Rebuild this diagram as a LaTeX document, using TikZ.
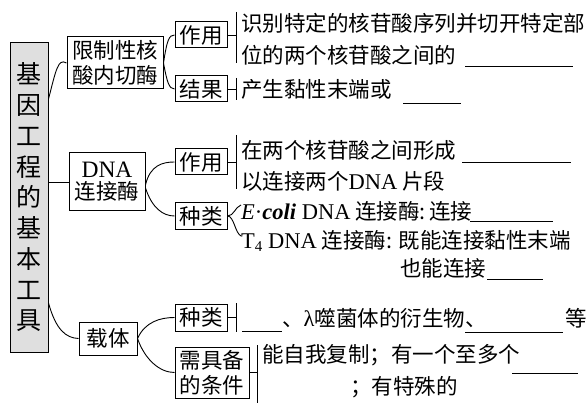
\documentclass[tikz,border=0pt]{standalone}
\usepackage{fontspec}
\setmainfont{Liberation Serif}
\newfontfamily\cjk{Noto Sans CJK SC}
\newcommand{\lat}[1]{{\rmfamily\fontsize{22.5}{25}\selectfont #1}}
\begin{document}
\begin{tikzpicture}[x=1pt,y=-1pt,
  box/.style={draw,line width=1pt,inner sep=0pt,align=center,font=\cjk\fontsize{21.5}{25}\selectfont},
  txt/.style={anchor=west,inner sep=0pt,font=\cjk\fontsize{21.5}{25}\selectfont},
  con/.style={line width=0.9pt},
  blank/.style={line width=1pt}]
\useasboundingbox (0,0) rectangle (586,403);
% main box
\node[box,fill=gray!25,minimum width=38,minimum height=309,font=\cjk\fontsize{25}{30.75}\selectfont] (main) at (29,197.5)
  {基\\因\\工\\程\\的\\基\\本\\工\\具};
% level 1
\node[box,minimum width=96,minimum height=52] (xz) at (115,63) {限制性核\\酸内切酶};
\node[box,minimum width=76,minimum height=58,font=\cjk\fontsize{21.5}{22}\selectfont] (lj) at (107,182) {{\rmfamily\fontsize{23.5}{25}\selectfont DNA}\\连接酶};
\node[box,minimum width=58,minimum height=33] (zt) at (108,338.5) {载体};
% level 2
\node[box,minimum width=52,minimum height=26] (zy1) at (201,35) {作用};
\node[box,minimum width=52,minimum height=26] (jg) at (201,89) {结果};
\node[box,minimum width=52,minimum height=26] (zy2) at (201,162) {作用};
\node[box,minimum width=52,minimum height=27] (zl2) at (201,216) {种类};
\node[box,minimum width=52,minimum height=27] (zl3) at (201,317.5) {种类};
\node[box,minimum width=74,minimum height=51] (xj) at (212,372.5) {需具备\\的条件};
% connectors main -> level 1
\draw[con] (main.east |- 0,99) .. controls (56,70) and (58,58) .. (xz.west);
\draw[con] (main.east |- lj.west) -- (lj.west);
\draw[con] (main.east |- 0,303) .. controls (56,330) and (66,338) .. (zt.west);
% level1 -> level2
\draw[con] (xz.east) .. controls (167,40) and (169,35) .. (zy1.west);
\draw[con] (xz.east) .. controls (167,82) and (169,89) .. (jg.west);
\draw[con] (lj.east |- 0,185) .. controls (150,165) and (163,162) .. (zy2.west);
\draw[con] (lj.east |- 0,188) .. controls (152,208) and (163,216) .. (zl2.west);
\draw[con] (zt.east) .. controls (145,322) and (160,317.5) .. (zl3.west);
\draw[con] (zt.east) .. controls (145,360) and (160,372.5) .. (xj.west);
% brackets
\coordinate (b1) at (236,35);
\draw[con] (zy1.east) -- (b1);
\draw[con] (236,12) -- (236,63);
\coordinate (b2) at (236,89);
\draw[con] (jg.east) -- (b2);
\draw[con] (236,78) -- (236,100);
\coordinate (b3) at (236,162);
\draw[con] (zy2.east) -- (b3);
\draw[con] (236,135) -- (236,189);
\coordinate (b4a) at (241,205);
\coordinate (b4b) at (241,236);
\draw[con] (zl2.east) .. controls (234,216) and (235,207) .. (b4a);
\draw[con] (zl2.east) .. controls (234,216) and (235,233) .. (b4b);
\coordinate (b5) at (236,317.5);
\draw[con] (zl3.east) -- (b5);
\draw[con] (236,303) -- (236,332);
\coordinate (b6) at (257,372.5);
\draw[con] (xj.east) -- (b6);
\draw[con] (257,345) -- (257,403);
% texts
\node[txt] (t1) at (241,23) {识别特定的核苷酸序列并切开特定部};
\node[txt] (t2) at (241,55) {位的两个核苷酸之间的};
\draw[blank] (465,67) -- (573,67);
\node[txt] (t3) at (241,89) {产生黏性末端或};
\draw[blank] (403,104) -- (461,104);
\node[txt] (t4) at (241,150) {在两个核苷酸之间形成};
\draw[blank] (462,163) -- (571,163);
\node[txt] (t5) at (241,181) {以连接两个\lat{DNA} 片段};
\node[txt] (t6) at (241,211) {\lat{\textit{E}·\textbf{\textit{coli}} DNA} 连接酶:\,连接};
\draw[blank] (470,222) -- (553,222);
\node[txt] (t7) at (241,241) {\lat{T\raisebox{-0.35ex}{\fontsize{15}{15}\selectfont 4} DNA} 连接酶: 既能连接黏性末端};
\node[txt] (t8) at (400,268) {也能连接};
\draw[blank] (487,280) -- (543,280);
\draw[blank] (242,331) -- (282,331);
\node[txt] (t9) at (282,318) {、\lat{λ}噬菌体的衍生物、};
\draw[blank] (465,332) -- (563,332);
\node[txt] (t10) at (565,318) {等};
\node[txt] (t11) at (262,355) {能自我复制；有一个至多个};
\draw[blank] (512,373) -- (578,373);
\node[txt] (t12) at (350,387) {；有特殊的};
\end{tikzpicture}
\end{document}
